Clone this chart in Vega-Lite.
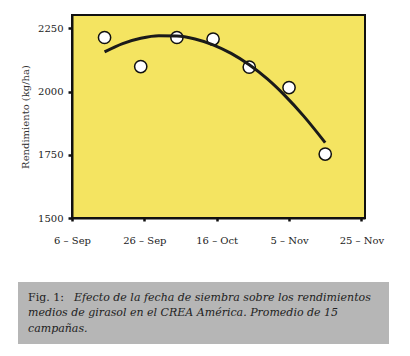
{
  "$schema": "https://vega.github.io/schema/vega-lite/v6.json",
  "background": "white",
  "padding": {"left": 18, "top": 14, "right": 0, "bottom": 0},
  "spacing": 36,
  "datasets": {
    "obs": [
      {"date": "2000-09-15", "yield": 2214},
      {"date": "2000-09-25", "yield": 2099},
      {"date": "2000-10-05", "yield": 2214},
      {"date": "2000-10-15", "yield": 2208},
      {"date": "2000-10-25", "yield": 2097},
      {"date": "2000-11-05", "yield": 2016},
      {"date": "2000-11-15", "yield": 1753}
    ],
    "fit": [
      {"date": "2000-09-15", "yield": 2157},
      {"date": "2000-09-20", "yield": 2190},
      {"date": "2000-09-25", "yield": 2211},
      {"date": "2000-09-30", "yield": 2221},
      {"date": "2000-10-05", "yield": 2220},
      {"date": "2000-10-10", "yield": 2208},
      {"date": "2000-10-15", "yield": 2185},
      {"date": "2000-10-20", "yield": 2151},
      {"date": "2000-10-25", "yield": 2106},
      {"date": "2000-10-30", "yield": 2050},
      {"date": "2000-11-04", "yield": 1982},
      {"date": "2000-11-09", "yield": 1904},
      {"date": "2000-11-15", "yield": 1798}
    ],
    "caption": [
      {"line": 1, "kind": "label", "text": "Fig. 1:"},
      {"line": 1, "kind": "first", "text": "Efecto de la fecha de siembra sobre los rendimientos"},
      {"line": 2, "kind": "rest", "text": "medios de girasol en el CREA América. Promedio de 15"},
      {"line": 3, "kind": "rest", "text": "campañas."}
    ]
  },
  "vconcat": [
    {
      "spacing": 0,
      "hconcat": [
        {
          "width": 1,
          "height": 203,
          "view": {"stroke": null, "fill": null},
          "data": {"values": []},
          "mark": "point"
        },
        {
          "width": 293,
          "height": 203,
          "view": {"fill": "#F4E461", "stroke": "#111111", "strokeWidth": 2},
          "encoding": {
            "x": {
              "field": "date",
              "type": "temporal",
              "scale": {
                "type": "utc",
                "nice": false,
                "domain": [
                  {"year": 2000, "month": 9, "date": 6, "utc": true},
                  {"year": 2000, "month": 11, "date": 26, "utc": true}
                ]
              },
              "axis": {
                "values": [
                  {"year": 2000, "month": 9, "date": 6, "utc": true},
                  {"year": 2000, "month": 9, "date": 26, "utc": true},
                  {"year": 2000, "month": 10, "date": 16, "utc": true},
                  {"year": 2000, "month": 11, "date": 5, "utc": true},
                  {"year": 2000, "month": 11, "date": 25, "utc": true}
                ],
                "format": "%-d – %b",
                "title": null,
                "grid": false,
                "labelFont": "DejaVu Serif",
                "labelFontSize": 10,
                "labelColor": "#222222",
                "labelPadding": 14,
                "labelFlush": false,
                "labelOverlap": false,
                "tickSize": 3,
                "tickWidth": 2.5,
                "tickColor": "#111111",
                "domainColor": "#111111",
                "domainWidth": 2
              }
            },
            "y": {
              "field": "yield",
              "type": "quantitative",
              "scale": {"domain": [1500, 2303], "nice": false, "zero": false},
              "axis": {
                "values": [1500, 1750, 2000, 2250],
                "format": "d",
                "grid": false,
                "title": "Rendimiento (kg/ha)",
                "titleFont": "DejaVu Serif",
                "titleFontSize": 10,
                "titleFontWeight": "normal",
                "titleColor": "#333333",
                "titlePadding": 7,
                "labelFont": "DejaVu Serif",
                "labelFontSize": 10,
                "labelColor": "#222222",
                "labelPadding": 5,
                "tickSize": 4,
                "tickWidth": 2.5,
                "tickColor": "#111111",
                "domainColor": "#111111",
                "domainWidth": 2
              }
            }
          },
          "layer": [
            {
              "data": {"name": "obs"},
              "mark": {"type": "point", "shape": "circle", "filled": true, "size": 150, "fill": "white", "stroke": "#111111", "strokeWidth": 1.5, "opacity": 1}
            },
            {
              "data": {"name": "fit"},
              "mark": {"type": "line", "interpolate": "monotone", "color": "#1a1a1a", "strokeWidth": 3}
            }
          ]
        }
      ]
    },
    {
      "width": 371,
      "height": 62,
      "view": {"fill": "#B6B6B6", "stroke": null},
      "data": {"name": "caption"},
      "encoding": {
        "y": {"field": "line", "type": "ordinal", "axis": null, "scale": {"padding": 1}},
        "x": {"datum": 0, "type": "quantitative", "scale": {"domain": [0, 1]}, "axis": null},
        "text": {"field": "text"}
      },
      "layer": [
        {
          "transform": [{"filter": "datum.kind == 'label'"}],
          "mark": {"type": "text", "align": "left", "baseline": "middle", "dx": 10, "font": "DejaVu Serif", "fontSize": 11, "color": "#222222"}
        },
        {
          "transform": [{"filter": "datum.kind == 'first'"}],
          "mark": {"type": "text", "align": "left", "baseline": "middle", "dx": 56, "font": "DejaVu Serif", "fontStyle": "italic", "fontSize": 11, "color": "#222222"}
        },
        {
          "transform": [{"filter": "datum.kind == 'rest'"}],
          "mark": {"type": "text", "align": "left", "baseline": "middle", "dx": 10, "font": "DejaVu Serif", "fontStyle": "italic", "fontSize": 11, "color": "#222222"}
        }
      ]
    }
  ]
}
